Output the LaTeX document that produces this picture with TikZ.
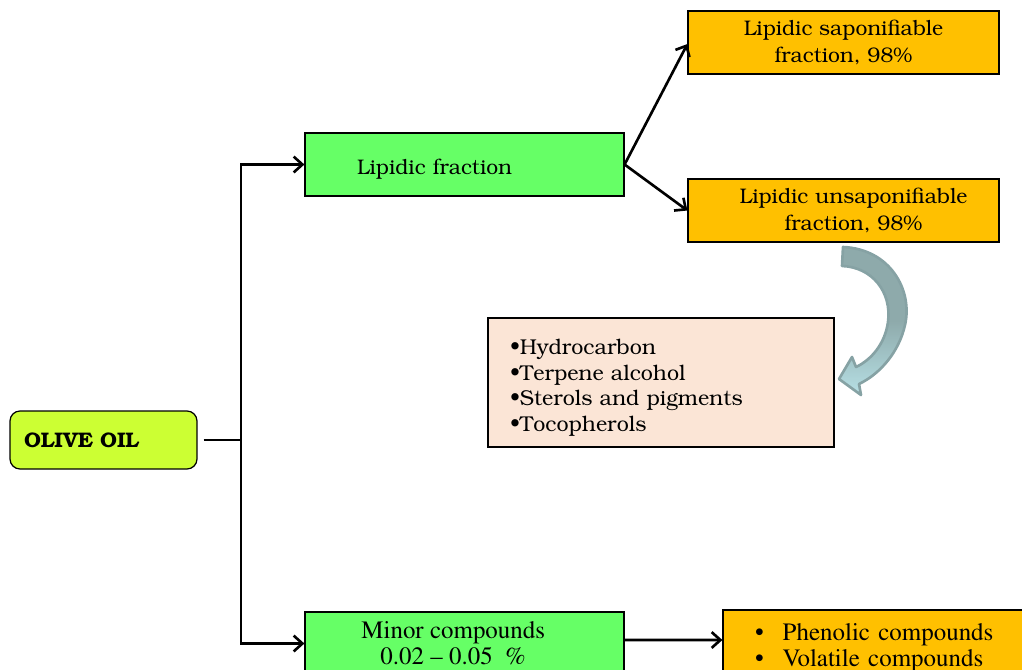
\documentclass[tikz,border=0pt]{standalone}
\usepackage[T1]{fontenc}
\usepackage{textcomp}
\usepackage{bookman}
\usetikzlibrary{arrows.meta}

\definecolor{oilgreen}{HTML}{CCFF33}
\definecolor{fracgreen}{HTML}{66FF66}
\definecolor{amber}{HTML}{FFC000}
\definecolor{peach}{HTML}{FBE5D6}
\definecolor{tealedge}{HTML}{86A2A4}
\definecolor{tealtop}{HTML}{8EAAAB}
\definecolor{tealbot}{HTML}{B7E0E5}

\begin{document}
\begin{tikzpicture}[x=0.02cm,y=-0.02cm]

    \tikzset{
      box/.style={
        draw=black,
        line width=0.7pt,
        minimum width=6.38cm,
        minimum height=1.26cm,
        inner sep=0pt,
        font=\fontsize{12}{15}\selectfont,
      },
      times/.style={font=\fontfamily{ptm}\fontsize{14.2}{14.7}\selectfont},
      link/.style={line width=1.5pt},
      arrow/.style={link, -{Straight Barb[length=5pt,width=9pt]}},
    }
    \useasboundingbox (0,0) rectangle (1022,670);
    \clip (0,0) rectangle (1022,670);

    % boxes
    \node[box, fill=oilgreen, rounded corners=0.2cm, minimum width=3.74cm, minimum height=1.16cm,
      text width=3.18cm, inner xsep=0.28cm, align=left] (oil) at (103.5,440) {\bfseries OLIVE OIL};
    \node[box, fill=fracgreen, text width=4.3cm, inner xsep=1.04cm, align=left] (lipfrac) at (464.5,164.5) {\rule{0pt}{13.6pt}Lipidic fraction};
    \node[box, fill=amber, minimum width=6.22cm, align=center] (sap) at (843.5,42.5) {Lipidic saponifiable\\ fraction, 98\%};
    \node[box, fill=amber, minimum width=6.22cm, align=center] (unsap) at (843.5,210.5) {\hspace{0.4cm}Lipidic unsaponifiable\\ \hspace{0.4cm}fraction, 98\%};
    \node[box, fill=peach, minimum width=6.92cm, minimum height=2.58cm, text width=6.04cm, inner xsep=0.44cm,
      align=left, font=\fontsize{12.2}{14.7}\selectfont] (sterols) at (661,382.5)
      {\rule{0pt}{14.6pt}\textbullet Hydrocarbon\\ \textbullet Terpene alcohol\\ \textbullet Sterols and pigments\\ \textbullet Tocopherols};
    \node[box, fill=fracgreen, times, align=center] (minor) at (464.5,643.5) {\hspace{-0.45cm}Minor compounds\\ \hspace{-0.45cm}0.02 -- 0.05\ \ \%};
    \node[box, fill=amber, times, minimum width=6.22cm, text width=4.94cm, inner xsep=0.64cm, align=left] (phen) at (878.5,641.5)
      {\rule{0pt}{17pt}\textbullet\hspace{0.38cm}Phenolic compounds\\ \textbullet\hspace{0.38cm}Volatile compounds};

    % connectors
    \coordinate (trunk) at (241,440);
    \draw[link] ([xshift=0.12cm]oil.east) -- (trunk);
    \draw[arrow] (trunk) |- (lipfrac.west);
    \draw[arrow] (trunk) |- (minor.west);
    \draw[arrow] (lipfrac.east) -- ([yshift=-0.03cm]sap.west);
    \draw[arrow] (lipfrac.east) -- (unsap.west);
    \draw[arrow] ([yshift=0.07cm]minor.east) -- ([yshift=0.03cm]phen.west);

    % curved block arrow
    \draw[tealedge, line width=1.5pt, line join=round, top color=tealtop, bottom color=tealbot, middle color=tealtop]
      (843,247) .. controls (890,249) and (913,290) .. (905,325)
      .. controls (899,352) and (880,374) .. (859,384)
      -- (861,395) -- (839,379) -- (852,357) -- (856,367)
      .. controls (871,360) and (885,344) .. (888,322)
      .. controls (892,292) and (872,267) .. (842,266) -- cycle;

\end{tikzpicture}
\end{document}
